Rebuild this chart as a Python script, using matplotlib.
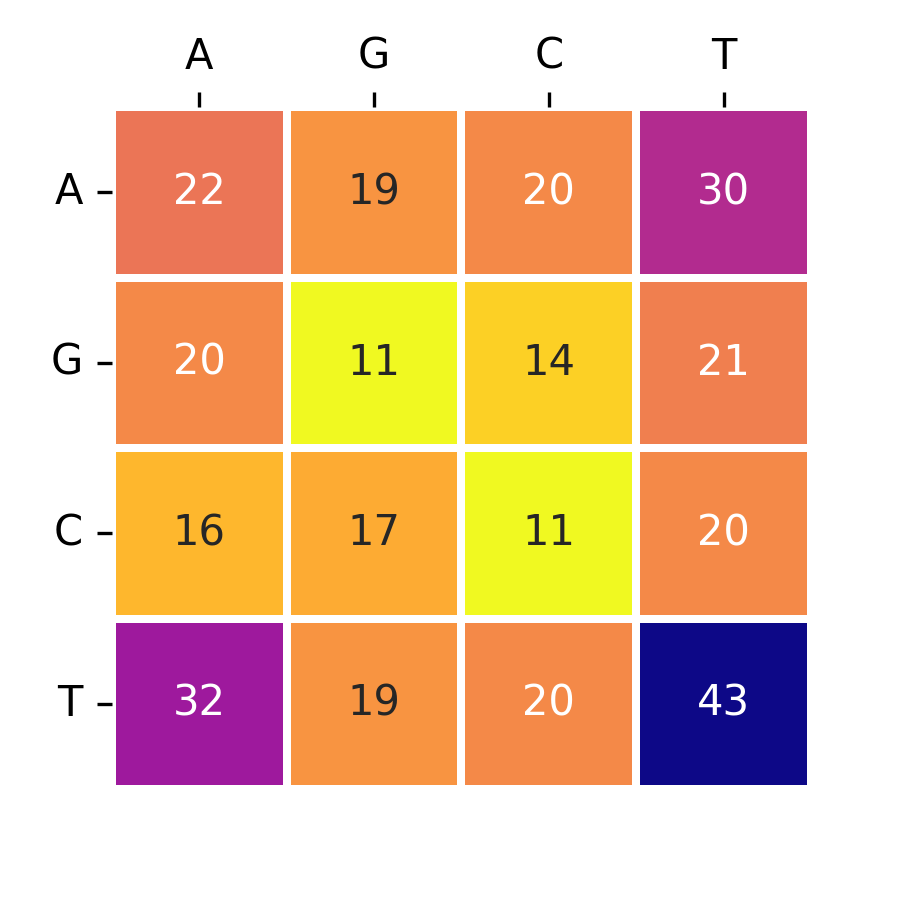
import numpy as np
import matplotlib
matplotlib.use("Agg")
import matplotlib.pyplot as plt
import seaborn as sns

# Dados
bases = ["A", "G", "C", "T"]
contagens = np.array([
    [22, 19, 20, 30],
    [20, 11, 14, 21],
    [16, 17, 11, 20],
    [32, 19, 20, 43],
])

fig = plt.figure(figsize=(3, 3), dpi=300)
ax = fig.add_axes([0.1244, 0.1233, 0.7767, 0.7578])

sns.heatmap(contagens, ax=ax, cmap="plasma_r", annot=True, fmt="d",
            linewidths=1.5, linecolor="white", cbar=False,
            xticklabels=bases, yticklabels=bases)

ax.xaxis.tick_top()
ax.tick_params(axis="y", rotation=0)
ax.tick_params(axis="x", rotation=0)

fig.savefig("out.png", dpi=300)
